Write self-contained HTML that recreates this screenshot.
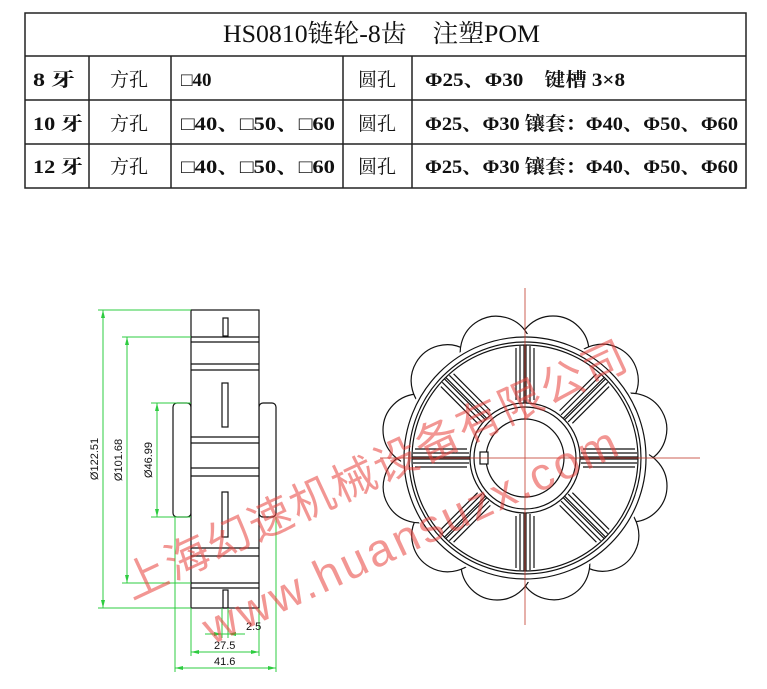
<!DOCTYPE html>
<html><head><meta charset="utf-8"><style>
html,body{margin:0;padding:0;background:#fff;width:767px;height:689px;overflow:hidden}
svg{display:block}
</style></head><body>
<svg width="767" height="689" viewBox="0 0 767 689" xmlns="http://www.w3.org/2000/svg">
<g stroke="#222" stroke-width="1.5" fill="none">
<rect x="25" y="13" width="721" height="175"/>
<line x1="25" y1="56" x2="746" y2="56"/>
<line x1="25" y1="100" x2="746" y2="100"/>
<line x1="25" y1="144" x2="746" y2="144"/>
<line x1="89" y1="56" x2="89" y2="188"/>
<line x1="171" y1="56" x2="171" y2="188"/>
<line x1="343" y1="56" x2="343" y2="188"/>
<line x1="412" y1="56" x2="412" y2="188"/>
</g>
<g font-family="Liberation Serif, 'Noto Serif CJK SC', serif" fill="#111">
<text x="223" y="42" font-size="25" textLength="317" lengthAdjust="spacingAndGlyphs">HS0810链轮-8齿　注塑POM</text>
<g font-size="19" font-weight="bold">
<text x="33" y="86" textLength="42" lengthAdjust="spacingAndGlyphs">8 牙</text>
<text x="33" y="130" textLength="50" lengthAdjust="spacingAndGlyphs">10 牙</text>
<text x="33" y="173" textLength="50" lengthAdjust="spacingAndGlyphs">12 牙</text>
<text x="110" y="86" font-weight="normal">方孔</text>
<text x="110" y="130" font-weight="normal">方孔</text>
<text x="110" y="173" font-weight="normal">方孔</text>
<text x="181" y="86">□40</text>
<text x="181" y="130" textLength="154" lengthAdjust="spacingAndGlyphs">□40、□50、□60</text>
<text x="181" y="173" textLength="154" lengthAdjust="spacingAndGlyphs">□40、□50、□60</text>
<text x="358" y="86" font-weight="normal">圆孔</text>
<text x="358" y="130" font-weight="normal">圆孔</text>
<text x="358" y="173" font-weight="normal">圆孔</text>
<text x="425" y="86" textLength="200" lengthAdjust="spacingAndGlyphs">Φ25、Φ30　键槽 3×8</text>
<text x="425" y="130" textLength="313" lengthAdjust="spacingAndGlyphs">Φ25、Φ30 镶套：Φ40、Φ50、Φ60</text>
<text x="425" y="173" textLength="313" lengthAdjust="spacingAndGlyphs">Φ25、Φ30 镶套：Φ40、Φ50、Φ60</text>
</g></g>

<g stroke="#111" stroke-width="1.2" fill="#fff">
<rect x="173" y="403" width="18" height="114" rx="4"/>
<rect x="259" y="403" width="17" height="114" rx="4"/>
<rect x="191" y="310" width="68" height="298"/>
</g>
<g stroke="#111" stroke-width="1.2" fill="none">
<line x1="191" y1="337" x2="259" y2="337"/><line x1="191" y1="342" x2="259" y2="342"/>
<line x1="191" y1="364" x2="259" y2="364"/><line x1="191" y1="370" x2="259" y2="370"/>
<line x1="191" y1="437" x2="259" y2="437"/><line x1="191" y1="443" x2="259" y2="443"/>
<line x1="191" y1="468" x2="259" y2="468"/><line x1="191" y1="476" x2="259" y2="476"/>
<line x1="191" y1="548" x2="259" y2="548"/><line x1="191" y1="556" x2="259" y2="556"/>
<line x1="191" y1="583" x2="259" y2="583"/><line x1="191" y1="588" x2="259" y2="588"/>
<rect x="223" y="318" width="5" height="18"/>
<rect x="222" y="383" width="6" height="44"/>
<rect x="222" y="492" width="6" height="45"/>
<rect x="223" y="590" width="5" height="18"/>
</g>
<g stroke="#2ecc40" stroke-width="1" fill="none">
<line x1="98" y1="310" x2="191" y2="310"/><line x1="98" y1="608" x2="191" y2="608"/>
<line x1="103" y1="310" x2="103" y2="608"/>
<line x1="122" y1="337" x2="191" y2="337"/><line x1="122" y1="583" x2="191" y2="583"/>
<line x1="127" y1="337" x2="127" y2="583"/>
<line x1="151" y1="403" x2="191" y2="403"/><line x1="151" y1="517" x2="191" y2="517"/>
<line x1="157" y1="403" x2="157" y2="517"/>
<line x1="175" y1="517" x2="175" y2="672"/><line x1="276" y1="517" x2="276" y2="672"/>
<line x1="191" y1="608" x2="191" y2="656"/><line x1="259" y1="608" x2="259" y2="656"/>
<line x1="222" y1="608" x2="222" y2="638"/><line x1="228" y1="608" x2="228" y2="638"/>
<line x1="205" y1="634" x2="245" y2="634"/>
<line x1="191" y1="652" x2="259" y2="652"/>
<line x1="175" y1="668" x2="276" y2="668"/>
</g>
<g fill="#2ecc40">
<path d="M103 310l-2 8h4z"/><path d="M103 608l-2 -8h4z"/>
<path d="M127 337l-2 8h4z"/><path d="M127 583l-2 -8h4z"/>
<path d="M157 403l-2 8h4z"/><path d="M157 517l-2 -8h4z"/>
<path d="M191 652l8 -2v4z"/><path d="M259 652l-8 -2v4z"/>
<path d="M175 668l8 -2v4z"/><path d="M276 668l-8 -2v4z"/>
<path d="M222 634l-8 -2v4z"/><path d="M228 634l8 -2v4z"/>
</g>
<g font-family="Liberation Sans, sans-serif" font-size="11" fill="#111">
<text transform="translate(98 459) rotate(-90)" text-anchor="middle">Ø122.51</text>
<text transform="translate(122 460) rotate(-90)" text-anchor="middle">Ø101.68</text>
<text transform="translate(152 460) rotate(-90)" text-anchor="middle">Ø46.99</text>
<text x="246" y="630">2.5</text>
<text x="214" y="649">27.5</text>
<text x="214" y="665">41.6</text>
</g>

<g stroke="#111" stroke-width="1.2" fill="#fff">
<g transform="translate(525 458)">
<g id="tt"><circle r="36" cx="28" cy="-106"/></g>
<use href="#tt" transform="rotate(30)"/><use href="#tt" transform="rotate(60)"/><use href="#tt" transform="rotate(90)"/>
<use href="#tt" transform="rotate(120)"/><use href="#tt" transform="rotate(150)"/><use href="#tt" transform="rotate(180)"/>
<use href="#tt" transform="rotate(210)"/><use href="#tt" transform="rotate(240)"/><use href="#tt" transform="rotate(270)"/>
<use href="#tt" transform="rotate(300)"/><use href="#tt" transform="rotate(330)"/>
<circle r="124" stroke="none"/>
<circle r="121" fill="none"/>
<circle r="116" fill="none"/>
<circle r="113" fill="none"/>
<g fill="none">
<g id="sp"><line x1="-9" y1="-58" x2="-9" y2="-110"/><line x1="9" y1="-58" x2="9" y2="-110"/><line x1="-5" y1="-56" x2="-5" y2="-112"/><line x1="5" y1="-56" x2="5" y2="-112"/><line x1="-1" y1="-55" x2="-1" y2="-113"/><line x1="1" y1="-55" x2="1" y2="-113"/></g>
<use href="#sp" transform="rotate(45)"/><use href="#sp" transform="rotate(90)"/><use href="#sp" transform="rotate(135)"/>
<use href="#sp" transform="rotate(180)"/><use href="#sp" transform="rotate(225)"/><use href="#sp" transform="rotate(270)"/><use href="#sp" transform="rotate(315)"/>
</g>
<circle r="55"/>
<circle r="51" fill="none"/>
<circle r="39"/>
<rect x="-45" y="-6" width="8" height="12"/>
</g>
</g>
<g stroke="#c0392b" stroke-width="1" opacity="0.8">
<line x1="525" y1="288" x2="525" y2="625"/>
<line x1="380" y1="458" x2="700" y2="458"/>
</g>

<g fill="#e8413c" opacity="0.55" font-family="'Noto Sans CJK SC', 'WenQuanYi Zen Hei', sans-serif">
<text transform="translate(132 600) rotate(-25)" font-size="44" letter-spacing="2">上海幻速机械设备有限公司</text>
<text transform="translate(212 645) rotate(-25)" font-size="46" font-family="Liberation Sans, sans-serif" letter-spacing="3">www.huansuzx.com</text>
</g>
</svg>
</body></html>
